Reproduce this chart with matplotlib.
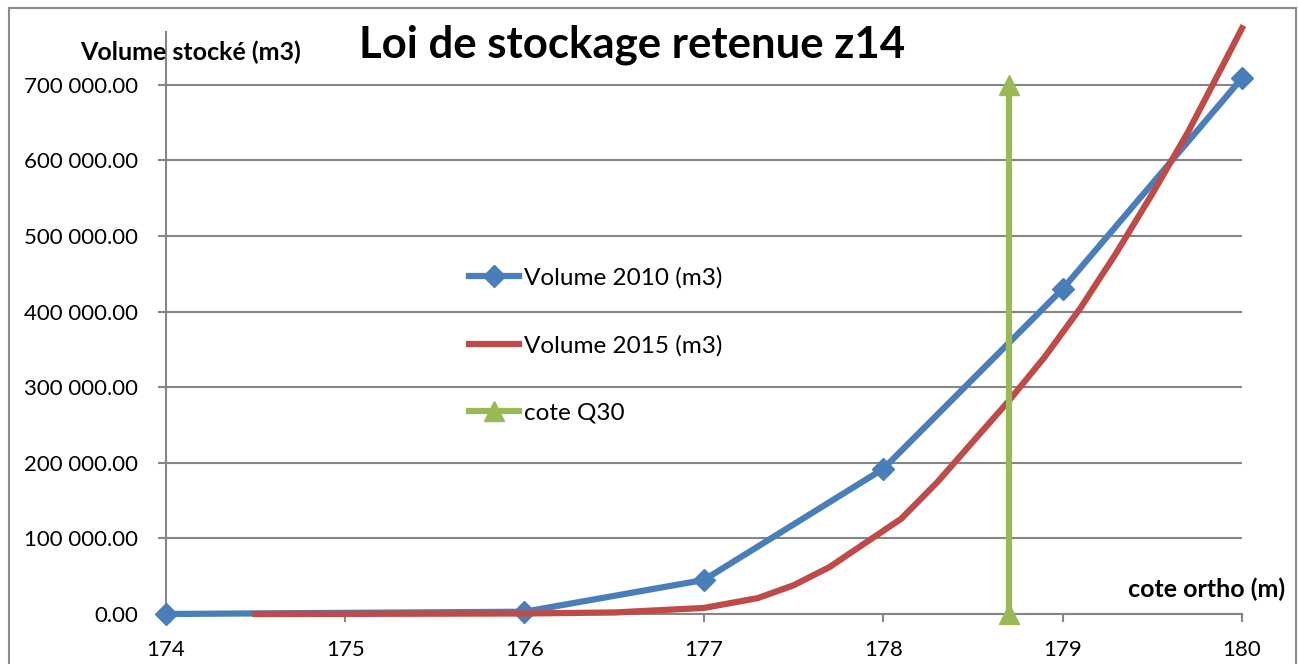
import matplotlib.pyplot as plt
from matplotlib.patches import Rectangle
from matplotlib.ticker import FuncFormatter, MultipleLocator

# cotes (m) et volumes stockés (m3)
cote_2010 = [174, 176, 177, 178, 179, 180]
vol_2010 = [0, 3000, 45000, 192000, 430000, 709000]

cote_2015 = [174.5, 175.0, 175.5, 176.0, 176.5, 177.0, 177.3, 177.5, 177.7, 177.9,
             178.1, 178.3, 178.5, 178.7, 178.9, 179.1, 179.3, 179.5, 179.7, 179.9, 180.0]
vol_2015 = [0, 200, 400, 700, 2000, 8000, 21000, 38000, 62000, 94000,
            126000, 174000, 228000, 282000, 340000, 405000, 478000, 556000, 638000, 729000, 775000]

cote_q30 = [178.7, 178.7]
vol_q30 = [0, 700000]

plt.rcParams['font.family'] = ['Lato', 'DejaVu Sans']

fig = plt.figure(figsize=(12.98, 6.64), dpi=100)
ax = fig.add_axes([165.7 / 1298, 1 - 614 / 664, (1242 - 165.7) / 1298, (614 - 32) / 664])

# cadre du graphique
fig.patches.append(Rectangle((9 / 1298, -0.1), (1296 - 9) / 1298, 1.1 - 8 / 664,
                             transform=fig.transFigure, fill=False,
                             edgecolor='#8c8c8c', linewidth=1.5))

blue = '#4A7EBB'
red = '#BE4B48'
green = '#98B954'
grey = '#868686'

ax.plot(cote_2010, vol_2010, color=blue, lw=4.5, marker='D', ms=11,
        label='Volume 2010 (m3)', clip_on=False, zorder=3)
ax.plot(cote_2015, vol_2015, color=red, lw=4.5, label='Volume 2015 (m3)',
        clip_on=False, zorder=3)
ax.plot(cote_q30, vol_q30, color=green, lw=4.5, marker='^', ms=14,
        label='cote Q30', clip_on=False, zorder=3)

ax.set_xlim(174, 180)
ax.set_ylim(0, 770000)
ax.xaxis.set_major_locator(MultipleLocator(1))
ax.yaxis.set_major_locator(MultipleLocator(100000))
ax.yaxis.set_major_formatter(FuncFormatter(lambda v, p: '{:,.2f}'.format(v).replace(',', ' ')))
ax.grid(axis='y', color=grey, lw=1.5)
ax.set_axisbelow(True)

for s in ['top', 'right']:
    ax.spines[s].set_visible(False)
for s in ['left', 'bottom']:
    ax.spines[s].set_color(grey)
    ax.spines[s].set_linewidth(1.5)
ax.tick_params(axis='both', colors=grey, length=6, width=1.5, labelcolor='black', labelsize=16)
ax.tick_params(axis='y', pad=14)
ax.tick_params(axis='x', pad=13)

fig.text(632 / 1298, 1 - 45 / 664, 'Loi de stockage retenue z14', fontsize=31.5,
         fontweight='bold', ha='center', va='center')
fig.text(191 / 1298, 1 - 52 / 664, 'Volume stocké (m3)', fontsize=18,
         fontweight='bold', ha='center', va='center')
fig.text(1285 / 1298, 1 - 589 / 664, 'cote ortho (m)', fontsize=18,
         fontweight='bold', ha='right', va='center')

ax.legend(loc='upper left', bbox_to_anchor=(447 / 1298, 1 - 245 / 664),
          bbox_transform=fig.transFigure, frameon=False, fontsize=17.5,
          handlelength=2.05, handletextpad=0.2, labelspacing=1.9)

fig.savefig('out.png', dpi=100)
